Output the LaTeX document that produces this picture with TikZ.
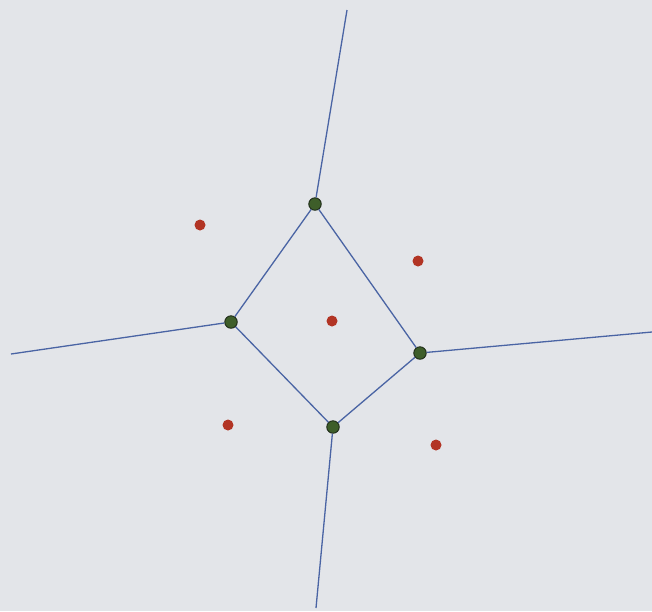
\documentclass[tikz,border=0pt]{standalone}
\begin{document}
\begin{tikzpicture}[x=1pt,y=-1pt,
  edge/.style={draw=edgeblue,line width=1.3pt},
  vtx/.style={circle,fill=vgreen,draw=vdark,line width=0.9pt,minimum size=12.5pt,inner sep=0pt},
  site/.style={circle,fill=sred,draw=none,minimum size=11pt,inner sep=0pt}]
\definecolor{bg}{HTML}{E3E5E9}
\definecolor{edgeblue}{HTML}{4A64A4}
\definecolor{vgreen}{HTML}{3E5E2A}
\definecolor{vdark}{HTML}{1E2A18}
\definecolor{sred}{HTML}{B23424}
\fill[bg] (0,0) rectangle (652,611);
\useasboundingbox (0,0) rectangle (652,611);
\coordinate (top) at (347,10);
\coordinate (left) at (11,354);
\coordinate (right) at (652,332);
\coordinate (bot) at (316,608);
\node[vtx] (a) at (315,204) {};
\node[vtx] (b) at (231,322) {};
\node[vtx] (c) at (420,353) {};
\node[vtx] (d) at (333,427) {};
\draw[edge] (a) -- (top);
\draw[edge] (b) -- (left);
\draw[edge] (c) -- (right);
\draw[edge] (d) -- (bot);
\draw[edge] (a) -- (b);
\draw[edge] (b) -- (d);
\draw[edge] (d) -- (c);
\draw[edge] (c) -- (a);
\node[site] (s1) at (200,225) {};
\node[site] (s2) at (418,261) {};
\node[site] (s3) at (332,321) {};
\node[site] (s4) at (228,425) {};
\node[site] (s5) at (436,445) {};
\end{tikzpicture}
\end{document}
